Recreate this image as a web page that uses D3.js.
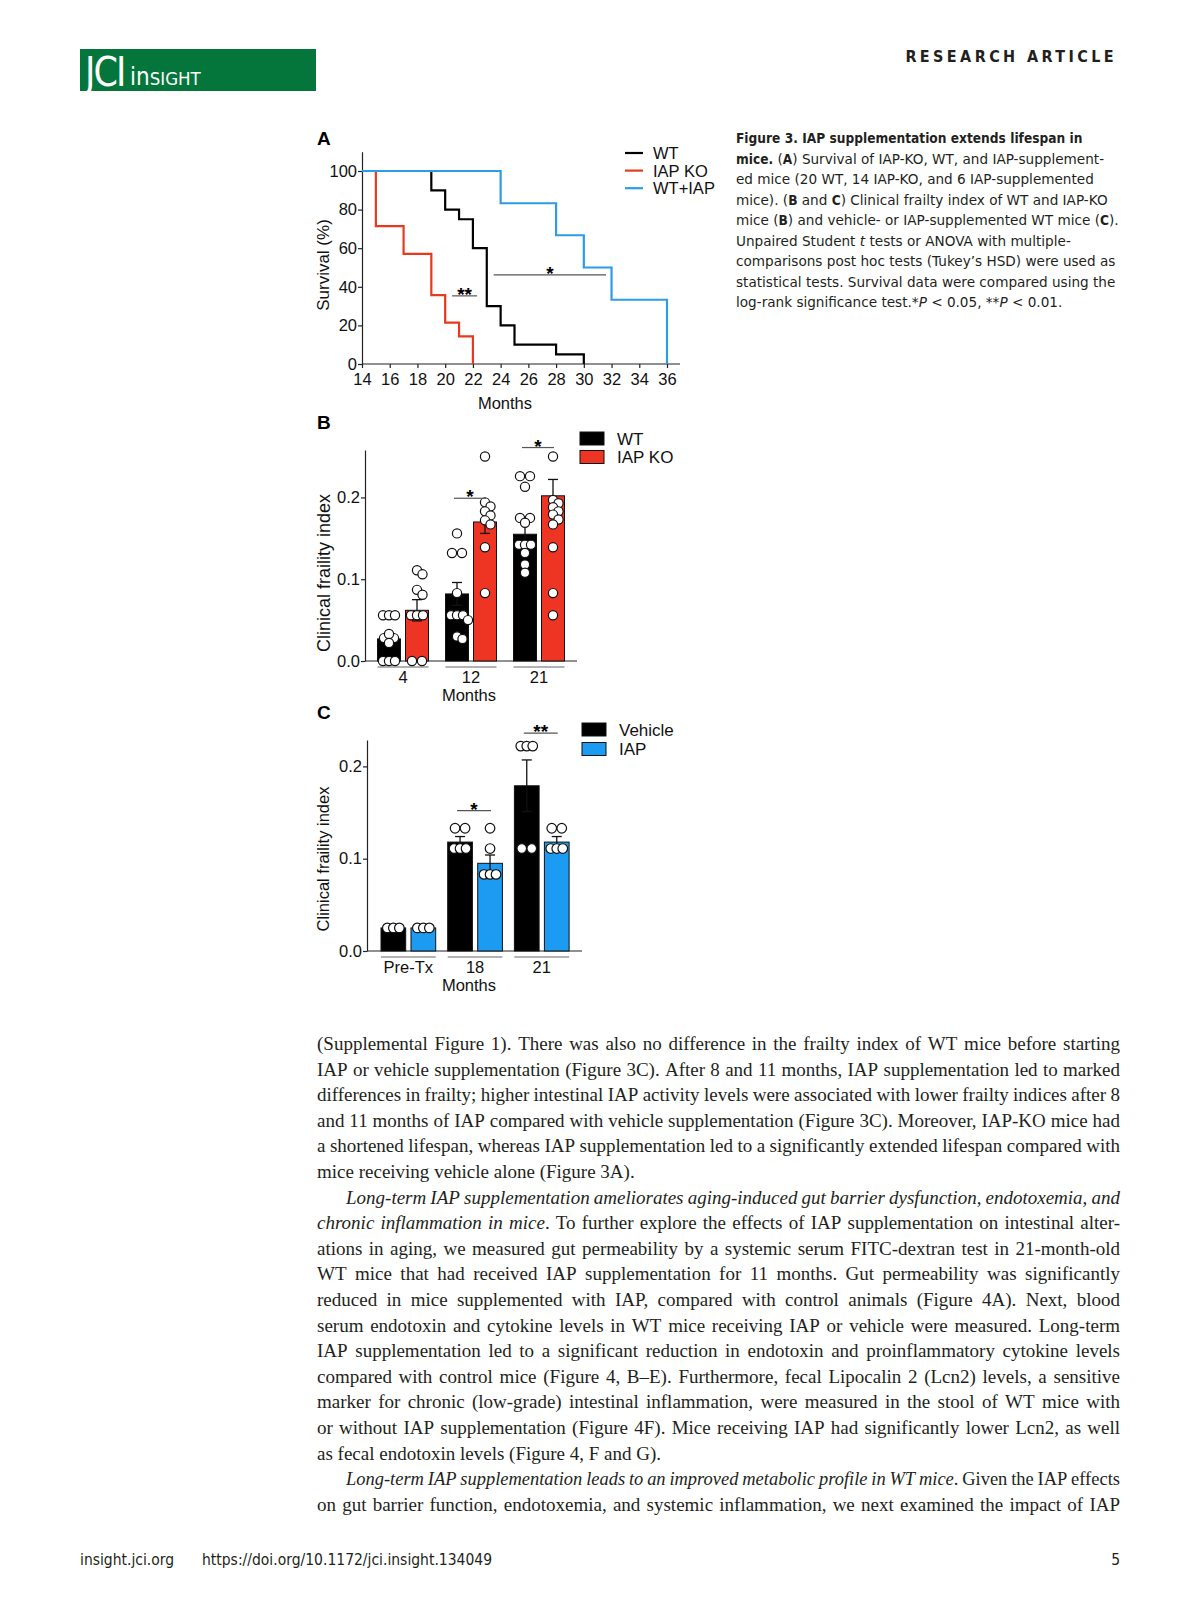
<!DOCTYPE html>
<html lang="en">
<head>
<meta charset="UTF-8" />
<title>JCI Insight - Figure 3</title>
<script src="https://d3js.org/d3.v7.min.js"></script>
<style>
  body { margin: 0; background: #fff; }
  svg { display: block; }
</style>
</head>
<body>
<svg width="1195" height="1600"></svg>
<script>
const SANS = '"Liberation Sans", Arial, sans-serif';
const COND = '"DejaVu Sans Condensed", "DejaVu Sans", sans-serif';
const WIDE = '"DejaVu Sans", sans-serif';
const SERIF = '"Liberation Serif", "Times New Roman", serif';

// ---------- panel A: survival steps (%) ----------
const survNames = ["WT", "IAP KO", "WT+IAP"];
const survColors = ["#000000", "#e8391d", "#2c9ce6"];
const wtMonths = [14, 19, 20, 21, 22, 23, 24, 25, 28, 30];
const wtSurv = [100, 90, 80, 75, 60, 30, 20, 10, 5, 0];
const koMonths = [14, 15, 17, 19, 20, 21, 22];
const koSurv = [100, 71.4, 57.1, 35.7, 21.4, 14.3, 0];
const iapMonths = [14, 24, 28, 30, 32, 36];
const iapSurv = [100, 83.3, 66.7, 50, 33.3, 0];
const monthTicks = [14, 16, 18, 20, 22, 24, 26, 28, 30, 32, 34, 36];
const survTicks = [0, 20, 40, 60, 80, 100];
// significance bars: [from month, to month, survival level, label]
const aSig = [[20.5, 22.3, 35.3, "**"], [23.5, 31.6, 46.2, "*"]];

// ---------- panel B: frailty, WT vs IAP KO ----------
const bGroups = ["4", "12", "21"];
const bSeries = ["WT", "IAP KO"];
const bColors = ["#000000", "#ee3423"];
const bWtMean = [0.027, 0.082, 0.155];
const bWtSem = [0.004, 0.014, 0.016];
const bKoMean = [0.062, 0.170, 0.202];
const bKoSem = [0.013, 0.014, 0.020];
const bWtDots = [
  [0.056, 0.056, 0.056, 0.033, 0.028, 0.028, 0.022, 0, 0, 0],
  [0.156, 0.132, 0.132, 0.083, 0.056, 0.056, 0.056, 0.050, 0.030, 0.027],
  [0.226, 0.226, 0.213, 0.175, 0.175, 0.169, 0.142, 0.142, 0.142, 0.132, 0.118, 0.108]
];
const bKoDots = [
  [0.111, 0.106, 0.087, 0.081, 0.056, 0.056, 0.056, 0, 0],
  [0.250, 0.194, 0.189, 0.183, 0.178, 0.172, 0.167, 0.139, 0.083],
  [0.250, 0.197, 0.193, 0.188, 0.183, 0.179, 0.173, 0.167, 0.139, 0.083, 0.056]
];
const bSig = [["12", 0.199, "*"], ["21", 0.261, "*"]];

// ---------- panel C: frailty, vehicle vs IAP ----------
const cGroups = ["Pre-Tx", "18", "21"];
const cSeries = ["Vehicle", "IAP"];
const cColors = ["#000000", "#1b9cf2"];
const cVehMean = [0.025, 0.118, 0.179];
const cVehSem = [0, 0.006, 0.028];
const cIapMean = [0.025, 0.095, 0.118];
const cIapSem = [0, 0.009, 0.006];
const cVehDots = [
  [0.025, 0.025, 0.025],
  [0.133, 0.133, 0.111, 0.111, 0.111],
  [0.222, 0.222, 0.222, 0.111, 0.111]
];
const cIapDots = [
  [0.025, 0.025, 0.025],
  [0.133, 0.111, 0.083, 0.083, 0.083],
  [0.133, 0.133, 0.111, 0.111, 0.111]
];
const cSig = [["18", 0.152, "*"], ["21", 0.236, "**"]];
const frailTicks = [0, 0.1, 0.2];

// ---------- page text ----------
const captionLines = [
  [["Figure 3. IAP supplementation extends lifespan in", "b"]],
  [["mice.", "b"], [" (", ""], ["A", "b"], [") Survival of IAP-KO, WT, and IAP-supplement-", ""]],
  [["ed mice (20 WT, 14 IAP-KO, and 6 IAP-supplemented", ""]],
  [["mice). (", ""], ["B", "b"], [" and ", ""], ["C", "b"], [") Clinical frailty index of WT and IAP-KO", ""]],
  [["mice (", ""], ["B", "b"], [") and vehicle- or IAP-supplemented WT mice (", ""], ["C", "b"], [").", ""]],
  [["Unpaired Student ", ""], ["t", "i"], [" tests or ANOVA with multiple-", ""]],
  [["comparisons post hoc tests (Tukey\u2019s HSD) were used as", ""]],
  [["statistical tests. Survival data were compared using the", ""]],
  [["log-rank significance test.*", ""], ["P", "i"], [" < 0.05, **", ""], ["P", "i"], [" < 0.01.", ""]]
];

const bodyLines = [
  "(Supplemental Figure 1). There was also no difference in the frailty index of WT mice before starting",
  "IAP or vehicle supplementation (Figure 3C). After 8 and 11 months, IAP supplementation led to marked",
  "differences in frailty; higher intestinal IAP activity levels were associated with lower frailty indices after 8",
  "and 11 months of IAP compared with vehicle supplementation (Figure 3C). Moreover, IAP-KO mice had",
  "a shortened lifespan, whereas IAP supplementation led to a significantly extended lifespan compared with",
  "mice receiving vehicle alone (Figure 3A).",
  [["Long-term IAP supplementation ameliorates aging-induced gut barrier dysfunction, endotoxemia, and", "i"]],
  [["chronic inflammation in mice", "i"], [". To further explore the effects of IAP supplementation on intestinal alter-", ""]],
  "ations in aging, we measured gut permeability by a systemic serum FITC-dextran test in 21-month-old",
  "WT mice that had received IAP supplementation for 11 months. Gut permeability was significantly",
  "reduced in mice supplemented with IAP, compared with control animals (Figure 4A). Next, blood",
  "serum endotoxin and cytokine levels in WT mice receiving IAP or vehicle were measured. Long-term",
  "IAP supplementation led to a significant reduction in endotoxin and proinflammatory cytokine levels",
  "compared with control mice (Figure 4, B\u2013E). Furthermore, fecal Lipocalin 2 (Lcn2) levels, a sensitive",
  "marker for chronic (low-grade) intestinal inflammation, were measured in the stool of WT mice with",
  "or without IAP supplementation (Figure 4F). Mice receiving IAP had significantly lower Lcn2, as well",
  "as fecal endotoxin levels (Figure 4, F and G).",
  [["Long-term IAP supplementation leads to an improved metabolic profile in WT mice", "i"], [". Given the IAP effects", ""]],
  "on gut barrier function, endotoxemia, and systemic inflammation, we next examined the impact of IAP"
];
const bodyIndent = [6, 17];
const bodyRagged = [5, 16];

const svg = d3.select("svg");

// ---------- helpers ----------
function styleAxis(g, fs) {
  g.attr("font-family", SANS).attr("font-size", fs);
  g.selectAll("path, line").attr("stroke", "#222").attr("stroke-width", 1.2);
  g.selectAll("text").attr("fill", "#111");
}

function tokenize(segs) {
  const words = [];
  let glue = false;
  segs.forEach(([txt, st]) => {
    txt.split(" ").forEach((p, j) => {
      if (j > 0) glue = false;
      if (p === "") return;
      if (glue && words.length) words[words.length - 1].push([p, st]);
      else words.push([[p, st]]);
      glue = true;
    });
  });
  return words;
}

function spaceWidth(fs, family) {
  const t = svg.append("text").attr("font-size", fs).attr("font-family", family);
  t.text("nn");
  const a = t.node().getComputedTextLength();
  t.text("n\u00a0n");
  const b = t.node().getComputedTextLength();
  t.remove();
  return b - a;
}

// one line of running text; justified lines that would overflow are condensed a little
function setLine(segs, o) {
  if (typeof segs === "string") segs = [[segs, ""]];
  const g = svg.append("g");
  const nodes = tokenize(segs).map(w => {
    const t = g.append("text").attr("y", o.y).attr("font-size", o.fs).attr("fill", o.fill)
      .attr("font-family", o.family);
    w.forEach(([s, st]) => t.append("tspan").text(s)
      .attr("font-family", st === "b" && o.boldFamily ? o.boldFamily : null)
      .attr("font-weight", st === "b" ? "bold" : null)
      .attr("font-style", st === "i" ? "italic" : null));
    return t;
  });
  const widths = nodes.map(t => t.node().getComputedTextLength());
  const sum = d3.sum(widths), n = nodes.length;
  let s = 1, gap = spaceWidth(o.fs, o.family);
  if (o.justify && n > 1) {
    const W = o.x1 - o.x0;
    s = Math.min(1, (W - o.minGap * (n - 1)) / sum);
    gap = (W / s - sum) / (n - 1);
  }
  let x = o.x0;
  nodes.forEach((t, i) => { t.attr("x", x); x += widths[i] + gap; });
  if (s < 1) g.attr("transform", `translate(${o.x0},0) scale(${s},1) translate(${-o.x0},0)`);
}

// dots: equal values spread symmetrically, single values dodge neighbours
function swarm(vals, y, cx) {
  const pts = [];
  const counts = d3.rollup(vals, v => v.length, d => d);
  const seen = new Map();
  vals.forEach(v => {
    const n = counts.get(v);
    if (n < 2) return;
    const k = seen.get(v) || 0;
    seen.set(v, k + 1);
    const span = n === 2 ? 10 : 12;
    pts.push({ x: cx + (k / (n - 1) - 0.5) * span, y: y(v) });
  });
  vals.filter(v => counts.get(v) === 1).forEach(v => {
    const py = y(v);
    for (let k = 0; k < 7; k++) {
      const px = cx + (k === 0 ? 0 : (k % 2 ? 1 : -1) * Math.ceil(k / 2) * 5.5);
      if (pts.every(p => Math.hypot(p.x - px, p.y - py) >= 6)) { pts.push({ x: px, y: py }); return; }
    }
    pts.push({ x: cx, y: py });
  });
  return pts;
}

function star(x, y, label) {
  svg.append("text").attr("x", x).attr("y", y + 5).attr("text-anchor", "middle")
    .attr("font-family", SANS).attr("font-weight", "bold").attr("font-size", 19)
    .text(label);
}

function sigLine(x1, x2, y) {
  svg.append("line").attr("x1", x1).attr("x2", x2).attr("y1", y).attr("y2", y)
    .attr("stroke", "#555").attr("stroke-width", 1.2);
}

function panelLetter(letter, y) {
  svg.append("text").attr("x", 317).attr("y", y).attr("font-family", SANS)
    .attr("font-weight", "bold").attr("font-size", 19).text(letter);
}

function yTitle(x, y, label, fs) {
  svg.append("text").attr("transform", `translate(${x},${y}) rotate(-90)`)
    .attr("text-anchor", "middle").attr("font-family", SANS).attr("font-size", fs)
    .attr("fill", "#111").text(label);
}

// ---------- header ----------
svg.append("rect").attr("x", 80).attr("y", 49).attr("width", 236).attr("height", 42)
  .attr("fill", "#05763b");
svg.append("text").attr("x", 85).attr("y", 86).attr("fill", "#fff")
  .attr("font-family", COND).attr("font-size", 41).attr("letter-spacing", -2)
  .attr("transform", "translate(85,0) scale(0.95,1) translate(-85,0)").text("JCI");
const ins = svg.append("text").attr("x", 130).attr("y", 85).attr("fill", "#fff")
  .attr("font-family", COND);
ins.append("tspan").attr("font-size", 24).text("in");
ins.append("tspan").attr("font-size", 18.5).text("SIGHT");
svg.append("text").attr("x", 1117).attr("y", 62).attr("text-anchor", "end")
  .attr("font-family", COND).attr("font-weight", "bold").attr("font-size", 16)
  .attr("letter-spacing", 3.4).attr("fill", "#231f20").text("RESEARCH ARTICLE");

// ---------- panel A ----------
const xA = d3.scaleLinear().domain([14, 36]).range([362, 667]);
const yA = d3.scaleLinear().domain([0, 110]).range([364, 151.7]);

panelLetter("A", 145);

svg.append("g").attr("transform", `translate(0,${yA(0)})`)
  .call(d3.axisBottom(xA).tickValues(monthTicks).tickSize(4).tickSizeOuter(0).tickPadding(5))
  .call(styleAxis, 16.5)
  .call(g => g.select(".domain").attr("d", `M${xA(14)},0H680`));
svg.append("g").attr("transform", `translate(${xA(14)},0)`)
  .call(d3.axisLeft(yA).tickValues(survTicks).tickSize(4).tickSizeOuter(0).tickPadding(1))
  .call(styleAxis, 16.5);

yTitle(329, 265, "Survival (%)", 17);
svg.append("text").attr("x", 505).attr("y", 409).attr("text-anchor", "middle")
  .attr("font-family", SANS).attr("font-size", 16.5).attr("fill", "#111").text("Months");

const step = d3.line().x(d => xA(d[0])).y(d => yA(d[1])).curve(d3.curveStepAfter);
[[wtMonths, wtSurv], [koMonths, koSurv], [iapMonths, iapSurv]].forEach(([m, s], i) => {
  svg.append("path").datum(d3.zip(m, s)).attr("d", step).attr("fill", "none")
    .attr("stroke", survColors[i]).attr("stroke-width", 2.2);
});

aSig.forEach(([m1, m2, lvl, lab]) => {
  sigLine(xA(m1), xA(m2), yA(lvl));
  star((xA(m1) + xA(m2)) / 2, yA(lvl), lab);
});

survNames.forEach((n, i) => {
  const y = 153 + i * 17.6;
  svg.append("line").attr("x1", 625).attr("x2", 643).attr("y1", y).attr("y2", y)
    .attr("stroke", survColors[i]).attr("stroke-width", 2.2);
  svg.append("text").attr("x", 653).attr("y", y + 6).attr("font-family", SANS)
    .attr("font-size", 16.5).attr("fill", "#111").text(n);
});

// ---------- bar panels ----------
function barPanel(o) {
  const x1 = d3.scaleBand().domain(o.series).range([0, o.x0.bandwidth()]).paddingInner(o.inner);
  const y0 = o.y(0);

  svg.append("g").attr("transform", `translate(${o.axisX},0)`)
    .call(d3.axisLeft(o.y).tickValues(frailTicks).tickFormat(d3.format(".1f"))
      .tickSize(4).tickSizeOuter(0).tickPadding(1))
    .call(styleAxis, 16.5);

  svg.append("g").attr("transform", `translate(0,${y0})`)
    .call(d3.axisBottom(o.x0).tickSize(0).tickPadding(10))
    .call(styleAxis, 16.5)
    .call(g => g.select(".domain").attr("d", `M${o.axisX},0H${o.axisEnd}`));

  o.x0.domain().forEach(gname => {
    svg.append("line").attr("x1", o.x0(gname)).attr("x2", o.x0(gname) + o.x0.bandwidth())
      .attr("y1", y0 + 6).attr("y2", y0 + 6).attr("stroke", "#999").attr("stroke-width", 1.5);
  });

  const cx = (g, s) => o.x0(g) + x1(s) + x1.bandwidth() / 2;

  o.series.forEach((s, si) => {
    o.x0.domain().forEach((g, gi) => {
      const m = o.means[si][gi], e = o.sems[si][gi];
      svg.append("rect").attr("x", o.x0(g) + x1(s)).attr("width", x1.bandwidth())
        .attr("y", o.y(m)).attr("height", y0 - o.y(m))
        .attr("fill", o.colors[si]).attr("stroke", "#111").attr("stroke-width", 1);
      if (e > 0) {
        const c = cx(g, s);
        const eb = svg.append("g").attr("stroke", "#111").attr("stroke-width", 1.3);
        eb.append("line").attr("x1", c).attr("x2", c).attr("y1", o.y(m - e)).attr("y2", o.y(m + e));
        [m - e, m + e].forEach(v => eb.append("line").attr("x1", c - 5).attr("x2", c + 5)
          .attr("y1", o.y(v)).attr("y2", o.y(v)));
      }
    });
  });

  o.series.forEach((s, si) => {
    o.x0.domain().forEach((g, gi) => {
      swarm(o.dots[si][gi], o.y, cx(g, s)).forEach(p => {
        svg.append("circle").attr("cx", p.x).attr("cy", p.y).attr("r", o.r)
          .attr("fill", "#fff").attr("stroke", "#111").attr("stroke-width", 1.2);
      });
    });
  });

  o.sig.forEach(([g, lvl, lab]) => {
    const a = cx(g, o.series[0]) - 3, b = cx(g, o.series[1]) + 1;
    sigLine(a, b, o.y(lvl));
    star((a + b) / 2, o.y(lvl), lab);
  });

  o.series.forEach((s, si) => {
    svg.append("rect").attr("x", o.legX).attr("y", o.legY + si * o.legStep)
      .attr("width", 24).attr("height", 13).attr("fill", o.colors[si])
      .attr("stroke", "#111").attr("stroke-width", 1);
    svg.append("text").attr("x", o.legX + 37).attr("y", o.legY + si * o.legStep + 12.5)
      .attr("font-family", SANS).attr("font-size", 17).attr("fill", "#111").text(s);
  });

  svg.append("text").attr("x", 469).attr("y", y0 + 40).attr("text-anchor", "middle")
    .attr("font-family", SANS).attr("font-size", 16.5).attr("fill", "#111").text("Months");
}

// panel B
panelLetter("B", 429);
yTitle(330, 573, "Clinical fraility index", 18);
barPanel({
  series: bSeries, colors: bColors,
  x0: d3.scaleBand().domain(bGroups).range([377.5, 564.5]).paddingInner(0.25),
  inner: 5 / 28,
  y: d3.scaleLinear().domain([0, 0.258]).range([661, 450]),
  axisX: 365, axisEnd: 577,
  means: [bWtMean, bKoMean], sems: [bWtSem, bKoSem], dots: [bWtDots, bKoDots],
  r: 4.6, sig: bSig, legX: 580, legY: 432, legStep: 18.5
});

// panel C
panelLetter("C", 719);
yTitle(329, 859, "Clinical fraility index", 16.5);
barPanel({
  series: cSeries, colors: cColors,
  x0: d3.scaleBand().domain(cGroups).range([381, 569.1]).paddingInner(0.18),
  inner: 5.3 / 30,
  y: d3.scaleLinear().domain([0, 0.2286]).range([951, 740]),
  axisX: 367, axisEnd: 582,
  means: [cVehMean, cIapMean], sems: [cVehSem, cIapSem], dots: [cVehDots, cIapDots],
  r: 4.8, sig: cSig, legX: 582, legY: 723, legStep: 19.5
});

// ---------- caption ----------
captionLines.forEach((segs, i) => {
  setLine(segs, { x0: 736, x1: 1120, y: 143 + i * 20.5, fs: 13.6, family: WIDE,
    boldFamily: COND, justify: false, fill: "#231f20" });
});

// ---------- body text ----------
bodyLines.forEach((segs, i) => {
  setLine(segs, { x0: bodyIndent.includes(i) ? 346 : 317, x1: 1120, y: 1050 + i * 25.6,
    fs: 19, family: SERIF, justify: !bodyRagged.includes(i), minGap: 3.8, fill: "#231f20" });
});

// ---------- footer ----------
[["insight.jci.org", 80, "start"], ["https://doi.org/10.1172/jci.insight.134049", 202, "start"], ["5", 1120, "end"]]
  .forEach(([t, x, a]) => {
    svg.append("text").attr("x", x).attr("y", 1565).attr("text-anchor", a)
      .attr("font-family", COND).attr("font-size", 15.5).attr("fill", "#231f20").text(t);
  });
</script>
</body>
</html>
